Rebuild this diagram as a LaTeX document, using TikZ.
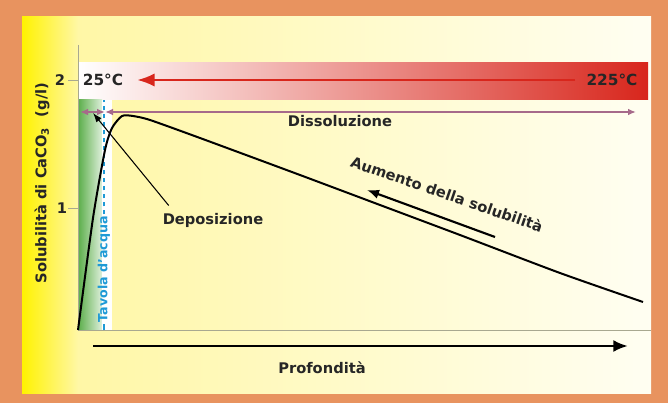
\documentclass[tikz,border=0pt]{standalone}
\usepackage{fontspec}
\setmainfont{DejaVu Sans}
\usetikzlibrary{arrows.meta}
\definecolor{cadre}{HTML}{E8935F}
\definecolor{jaune}{HTML}{FFF200}
\definecolor{jaunepale}{HTML}{FFF7A6}
\definecolor{creme}{HTML}{FFFEF2}
\definecolor{rouge}{HTML}{D8261C}
\definecolor{rose}{HTML}{F4BBAA}
\definecolor{vert}{HTML}{5BAE4A}
\definecolor{bleu}{HTML}{1E9AD6}
\definecolor{violet}{HTML}{A66A8A}
\definecolor{grisaxe}{HTML}{A8A890}
\tikzset{
  lbl/.style={font=\bfseries\fontsize{11}{13}\selectfont, text=black!85},
  axe/.style={draw=grisaxe, line width=0.5pt},
  fleche/.style={line width=1.6pt, -{Latex[length=9pt,width=7pt]}},
}
\begin{document}
\begin{tikzpicture}[x=0.75pt,y=-0.75pt]
  \useasboundingbox (0,0) rectangle (668,403);
  % cadre et fond
  \fill[cadre] (0,0) rectangle (668,403);
  \shade[left color=jaune, right color=jaunepale] (22,17) rectangle (78,393);
  \shade[left color=jaunepale, right color=creme] (78,17) rectangle (651,393);
  % bande des temperatures
  \shade[left color=white, middle color=rose, right color=rouge] (78,63) rectangle (648,100);
  % zone de deposizione
  \shade[left color=vert, right color=vert!20] (78,100) rectangle (102,330);
  \fill[white] (102,100) rectangle (112,330);

  % assi
  \draw[axe] (78,45) -- (78,330) -- (651,330);
  \draw[axe] (68,80) -- (78,80);
  \draw[axe] (68,208) -- (78,208);
  \node[lbl] (due) at (60,80) {2};
  \node[lbl] (uno) at (62,208) {1};
  \node[lbl, rotate=90] (ylab) at (42,183) {Solubilità di CaCO\textsubscript{3}\ \ (g/l)};

  % temperature
  \node[lbl, font=\bfseries\fontsize{11.5}{13}\selectfont] (freddo) at (103,80) {25°C};
  \node[lbl, font=\bfseries\fontsize{11.5}{13}\selectfont] (caldo) at (612,80) {225°C};
  \draw[rouge, line width=2pt, -{Latex[length=13pt,width=10pt]}] ([xshift=-5pt]caldo.west) -- ([xshift=7pt]freddo.east);

  % tavola d'acqua
  \node[rotate=90, anchor=west, text=bleu, font=\bfseries\fontsize{9.5}{11}\selectfont, inner sep=1pt] (tavola) at (104,324) {Tavola d'acqua};
  \coordinate (falda) at (104,100);
  \coordinate (fondo) at (104,330);
  \draw[bleu, line width=1.5pt, dash pattern=on 3pt off 3pt] (tavola.east) -- (falda);
  \draw[bleu, line width=1.5pt] (fondo) -- (tavola.west);

  % dissoluzione
  \coordinate (dsx) at (80,112);
  \coordinate (dmid) at (105,112);
  \coordinate (ddx) at (636,112);
  \draw[violet, line width=1.2pt, {Latex[length=6pt,width=5pt]}-{Latex[length=6pt,width=5pt]}] (dsx) -- (dmid);
  \draw[violet, line width=1.2pt, {Latex[length=6pt,width=5pt]}-{Latex[length=6pt,width=5pt]}] (dmid) -- (ddx);
  \node[lbl] (dissol) at (340,121) {Dissoluzione};

  % curva di solubilita
  \draw[line width=1.5pt, line join=round] plot[smooth, tension=0.4] coordinates {
    (78,330) (93,218) (105,150) (112,128) (122,116) (133,116) (150,120)
    (200,138) (300,175) (380,205) (460,235) (560,273) (643,302)
  };

  % deposizione
  \node[lbl] (depos) at (213,220) {Deposizione};
  \coordinate (bersaglio) at (93,113);
  \draw[line width=0.8pt, -{Latex[length=7pt,width=5pt]}] ([xshift=8pt,yshift=2pt]depos.north west) -- (bersaglio);

  % aumento della solubilita
  \node[lbl, rotate=-19] (aumento) at (447,194) {Aumento della solubilità};
  \coordinate (coda) at (495,237);
  \coordinate (punta) at (367,190);
  \draw[fleche] (coda) -- (punta);

  % profondita
  \coordinate (pinizio) at (93,346);
  \coordinate (pfine) at (628,346);
  \draw[line width=2pt, -{Latex[length=11pt,width=9pt]}] (pinizio) -- (pfine);
  \node[lbl] (prof) at (322,368) {Profondità};
\end{tikzpicture}
\end{document}
